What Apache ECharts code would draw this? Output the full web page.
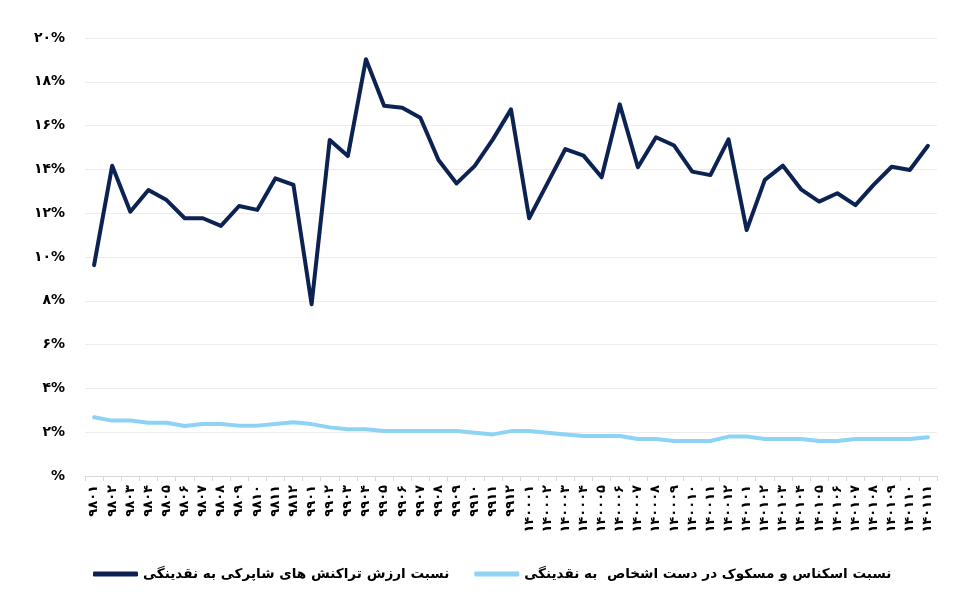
<!DOCTYPE html>
<html><head><meta charset="utf-8">
<script src="https://cdn.jsdelivr.net/npm/echarts@6/dist/echarts.min.js"></script>
<style>html,body{margin:0;padding:0;background:#fff}#c{width:975px;height:609px}</style>
</head><body><div id="c"></div>
<script>
var categories = ['۹۸۰۱','۹۸۰۲','۹۸۰۳','۹۸۰۴','۹۸۰۵','۹۸۰۶','۹۸۰۷','۹۸۰۸','۹۸۰۹','۹۸۱۰','۹۸۱۱','۹۸۱۲',
 '۹۹۰۱','۹۹۰۲','۹۹۰۳','۹۹۰۴','۹۹۰۵','۹۹۰۶','۹۹۰۷','۹۹۰۸','۹۹۰۹','۹۹۱۰','۹۹۱۱','۹۹۱۲',
 '۱۴۰۰۰۱','۱۴۰۰۰۲','۱۴۰۰۰۳','۱۴۰۰۰۴','۱۴۰۰۰۵','۱۴۰۰۰۶','۱۴۰۰۰۷','۱۴۰۰۰۸','۱۴۰۰۰۹','۱۴۰۰۱۰','۱۴۰۰۱۱','۱۴۰۰۱۲',
 '۱۴۰۱۰۱','۱۴۰۱۰۲','۱۴۰۱۰۳','۱۴۰۱۰۴','۱۴۰۱۰۵','۱۴۰۱۰۶','۱۴۰۱۰۷','۱۴۰۱۰۸','۱۴۰۱۰۹','۱۴۰۱۱۰','۱۴۰۱۱۱'];
var shaparakRatio = [9.63,14.17,12.07,13.06,12.6,11.77,11.77,11.42,12.33,12.15,13.59,13.29,
 7.84,15.34,14.61,19.03,16.91,16.82,16.36,14.43,13.36,14.16,15.37,16.74,
 11.77,13.35,14.93,14.63,13.64,16.97,14.1,15.47,15.09,13.9,13.74,15.37,
 11.23,13.52,14.17,13.09,12.53,12.91,12.37,13.29,14.12,13.97,15.08];
var cashRatio = [2.68,2.53,2.53,2.43,2.43,2.28,2.37,2.37,2.3,2.3,2.37,2.45,
 2.37,2.22,2.13,2.13,2.05,2.05,2.05,2.05,2.05,1.98,1.9,2.05,
 2.05,1.98,1.9,1.83,1.83,1.83,1.69,1.69,1.6,1.6,1.6,1.8,
 1.8,1.69,1.69,1.69,1.6,1.6,1.69,1.69,1.69,1.69,1.77];
var yTickLabels = ['%','۲%','۴%','۶%','۸%','۱۰%','۱۲%','۱۴%','۱۶%','۱۸%','۲۰%'];
var seriesNames = ['نسبت ارزش تراکنش های شاپرکی به نقدینگی','نسبت اسکناس و مسکوک در دست اشخاص  به نقدینگی'];

var chart = echarts.init(document.getElementById('c'));
var font = 'DejaVu Sans';
chart.setOption({
  animation: false,
  backgroundColor: '#fff',
  grid: {left: 85, right: 38, top: 38, bottom: 133, containLabel: false},
  legend: {
    bottom: 23, left: 88,
    itemWidth: 45, itemHeight: 5, itemGap: 25,
    icon: 'roundRect',
    textStyle: {fontFamily: font, fontWeight: 'bold', fontSize: 13.6, color: '#000'},
    data: seriesNames
  },
  xAxis: {
    type: 'category', data: categories, boundaryGap: true,
    axisLine: {lineStyle: {color: '#d9d9d9', width: 1}},
    axisTick: {show: true, length: 5, lineStyle: {color: '#d9d9d9'}},
    axisLabel: {rotate: 90, interval: 0, margin: 9, fontFamily: font, fontWeight: 'bold', fontSize: 13, color: '#000'}
  },
  yAxis: {
    type: 'value', min: 0, max: 20, interval: 2,
    axisLine: {show: false}, axisTick: {show: false},
    splitLine: {lineStyle: {color: '#ececec', width: 1}},
    axisLabel: {margin: 20, fontFamily: font, fontWeight: 'bold', fontSize: 14, color: '#000',
      formatter: function (v) { return yTickLabels[Math.round(v / 2)]; }}
  },
  series: [
    {name: seriesNames[0], type: 'line', data: shaparakRatio, showSymbol: false, symbol: 'none',
     lineStyle: {color: '#0b2253', width: 4, join: 'round', cap: 'round'}, itemStyle: {color: '#0b2253'}},
    {name: seriesNames[1], type: 'line', data: cashRatio, showSymbol: false, symbol: 'none',
     lineStyle: {color: '#8dd3f5', width: 4, join: 'round', cap: 'round'}, itemStyle: {color: '#8dd3f5'}}
  ]
});
</script></body></html>
